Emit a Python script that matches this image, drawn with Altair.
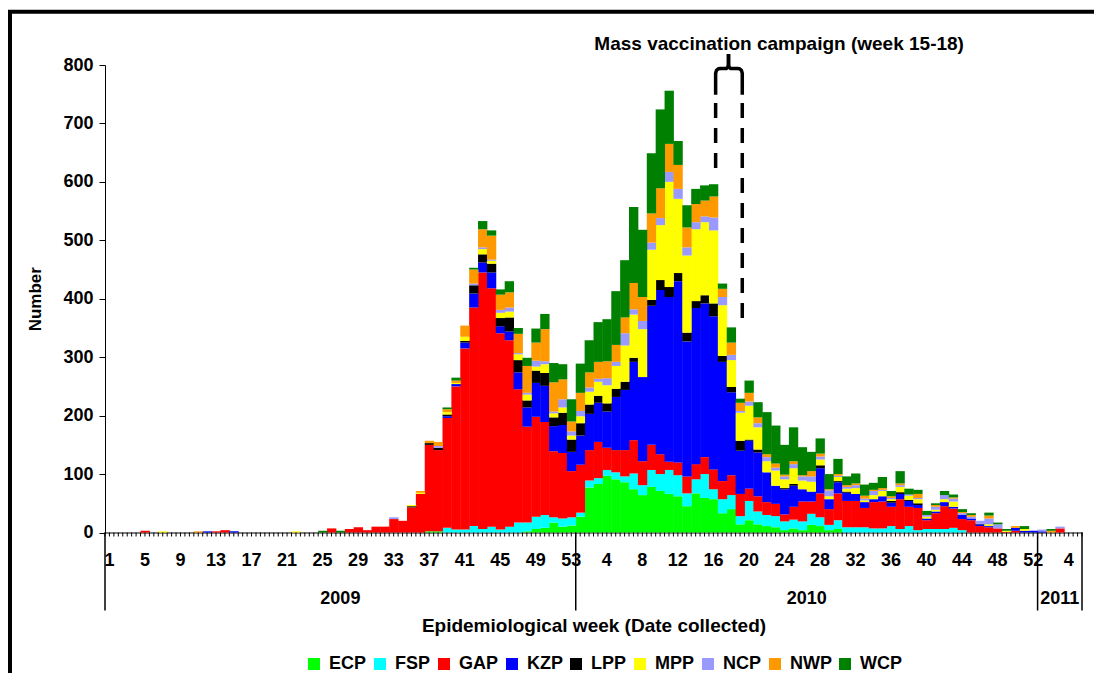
import altair as alt
import pandas as pd

# ---------------- data ----------------
categories = ["ECP", "FSP", "GAP", "KZP", "LPP", "MPP", "NCP", "NWP", "WCP"]
colors = ["#00FF00", "#00FFFF", "#FF0000", "#0000FF", "#000000",
          "#FFFF00", "#9999FF", "#FF9900", "#008000"]

years = ["2009", "2010", "2011"]
weeks_per_year = [53, 52, 5]
labeled_weeks = {
    "2009": [1, 5, 9, 13, 17, 21, 25, 29, 33, 37, 41, 45, 49, 53],
    "2010": [4, 8, 12, 16, 20, 24, 28, 32, 36, 40, 44, 48, 52],
    "2011": [4],
}

# counts per week: 2009 (53 weeks) + 2010 (52 weeks) + 2011 (5 weeks)
ECP = ([0] * 36 + [2, 2, 0, 0, 0, 0, 0, 0, 0, 0, 0, 2, 6, 8, 17, 10, 12]
       + [27, 77, 83, 97, 91, 86, 74, 64, 78, 71,
          66, 62, 45, 67, 59, 57, 33, 40, 14, 21,
          14, 11, 9, 4, 7, 4, 13, 11, 4, 6]
       + [0] * 22
       + [0, 0, 0, 0, 0])
FSP = ([0] * 38 + [8, 5, 5, 11, 6, 10, 5, 10, 17, 15, 21, 22, 9, 14, 14]
       + [7, 12, 10, 10, 12, 10, 27, 17, 29, 29,
          41, 36, 22, 24, 41, 17, 24, 24, 14, 33,
          22, 19, 19, 15, 15, 15, 19, 15, 9, 15,
          9, 9, 9, 7, 7, 11, 6, 11, 4, 6,
          6, 6, 8, 4, 0, 0, 0, 0, 0, 0,
          0, 0]
       + [0, 0, 0, 0, 0])
GAP = ([0, 0, 0, 0, 3, 0, 0, 0, 0, 0,
        0, 0, 2, 4, 0, 0, 0, 0, 0, 0,
        0, 0, 0, 0, 0, 7, 0, 6, 9, 4,
        10, 10, 23, 20, 43, 66, 148, 139, 188, 245,
        310, 374, 439, 408, 336, 319, 228, 164, 171, 159,
        113, 112, 79]
       + [82, 52, 62, 38, 38, 45, 57, 41, 43, 34,
          14, 22, 29, 26, 29, 34, 31, 34, 38, 21,
          26, 22, 21, 12, 22, 34, 21, 41, 27, 46,
          45, 45, 33, 45, 46, 33, 51, 33, 38, 15,
          27, 39, 33, 19, 21, 11, 9, 7, 1, 3,
          0, 0]
       + [0, 0, 7, 0, 0])
KZP = ([0] * 11 + [2, 0, 0, 2] + [0] * 23
       + [3, 4, 10, 24, 17, 27, 12, 15, 29, 33, 58, 62, 43, 48, 33]
       + [50, 62, 67, 62, 91, 103, 134, 144, 238, 281,
          282, 310, 231, 267, 263, 262, 204, 142, 74, 82,
          75, 51, 31, 43, 36, 21, 17, 43, 17, 19,
          14, 12, 10, 5, 9, 7, 9, 10, 5, 3,
          3, 7, 3, 7, 3, 3, 2, 0, 0, 5,
          3, 3]
       + [2, 0, 0, 0, 0])
LPP = ([0] * 34 + [2, 0, 3, 4, 3, 0, 3]
       + [14, 14, 15, 14, 24, 21, 12, 21, 22, 15, 21, 21]
       + [21, 16, 12, 14, 14, 14, 7, 0, 10, 17,
          17, 14, 15, 12, 14, 22, 10, 9, 17, 2,
          5, 0, 0, 2, 3, 0, 0, 5, 0, 2,
          2, 0, 0, 0, 0, 3, 3, 2, 3, 0,
          0, 0, 0, 0, 0, 1, 0, 0, 0, 0,
          0, 0]
       + [0, 0, 0, 0, 0])
MPP = ([0] * 6 + [2] + [0] * 14 + [2] + [0] * 12
       + [2, 2, 0, 0, 4, 2, 7, 0]
       + [9, 5, 9, 10, 10, 10, 7, 15, 7, 9, 7]
       + [12, 22, 24, 31, 39, 62, 74, 82, 86, 94,
          180, 127, 132, 123, 125, 125, 87, 46, 48, 58,
          38, 19, 26, 15, 27, 15, 17, 10, 5, 7,
          5, 10, 3, 7, 9, 3, 9, 7, 7, 3,
          3, 5, 9, 0, 0, 0, 3, 0, 2, 0,
          3, 0]
       + [0, 0, 0, 0, 0])
NCP = ([0] * 32 + [3, 0, 0, 0, 0, 3, 0, 0, 0]
       + [3, 3, 2, 5, 7, 2, 3, 10, 5, 3, 14, 7]
       + [9, 7, 5, 12, 7, 21, 9, 14, 12, 12,
          17, 17, 14, 12, 10, 22, 14, 9, 3, 7,
          7, 7, 5, 5, 7, 7, 9, 5, 10, 2,
          3, 5, 3, 7, 2, 2, 3, 2, 2, 3,
          5, 7, 5, 3, 3, 5, 10, 7, 0, 0,
          0, 0]
       + [3, 0, 3, 0, 0])
NWP = ([0] * 10 + [2] + [0] * 24
       + [3, 4, 7, 5, 4, 19, 24, 31, 41, 26, 26, 33, 46, 31, 55, 50, 34, 17]
       + [31, 26, 29, 29, 29, 27, 45, 41, 50, 51,
          48, 41, 34, 31, 27, 36, 14, 21, 14, 15,
          10, 5, 7, 3, 5, 2, 9, 5, 2, 3,
          3, 3, 5, 2, 3, 3, 3, 0, 7, 0,
          3, 0, 2, 2, 3, 0, 5, 0, 0, 3,
          0, 0]
       + [0, 3, 0, 0, 0])
WCP = ([0] * 24 + [3, 0, 3] + [0] * 11 + [3, 5, 0]
       + [3, 14, 9, 9, 19, 10, 14, 24, 26, 33, 26, 38]
       + [50, 55, 68, 72, 92, 98, 130, 115, 103, 135,
          91, 41, 38, 26, 26, 21, 9, 26, 7, 21,
          26, 72, 65, 51, 58, 48, 33, 26, 26, 26,
          15, 17, 19, 12, 19, 9, 21, 10, 7, 7,
          3, 7, 5, 5, 3, 0, 5, 3, 3, 0,
          5, 0]
       + [0, 3, 0, 0, 0])

series = dict(zip(categories, [ECP, FSP, GAP, KZP, LPP, MPP, NCP, NWP, WCP]))

annotation_text = "Mass vaccination campaign (week 15-18)"

# ---------------- tables ----------------
label_rows = []
pos = 0
starts, ends = [], []
for yr, n in zip(years, weeks_per_year):
    starts.append(pos)
    for wk in range(1, n + 1):
        if wk in labeled_weeks[yr]:
            label_rows.append({"xc": pos + wk - 0.5, "lab": str(wk)})
    pos += n
    ends.append(pos)
n_weeks = pos
label_df = pd.DataFrame(label_rows)
tick_df = pd.DataFrame({"t": [k / 2 for k in range(2 * n_weeks + 1)]})

rows = []
for order, cat in enumerate(categories):
    for i, v in enumerate(series[cat]):
        rows.append({"idx": i, "cat": cat, "order": order, "value": v})
df = pd.DataFrame(rows)

year_df = pd.DataFrame({"year": years, "start": starts, "end": ends})
bound_df = pd.DataFrame({"b": [0] + ends})

# annotation geometry (week-index units, count units)
ann_text_df = pd.DataFrame({"x": [75.9], "y": [836], "t": [annotation_text]})
bracket_df = pd.DataFrame({
    "side": ["L"] * 9 + ["R"] * 9,
    "ord": list(range(9)) * 2,
    "x": [68.75, 68.75, 68.85, 69.05, 69.3, 69.95, 70.12, 70.2, 70.2,
          71.75, 71.75, 71.65, 71.45, 71.2, 70.45, 70.28, 70.2, 70.2],
    "y": [749, 786, 791, 793.5, 794, 794, 796, 801, 819,
          749, 786, 791, 793.5, 794, 794, 796, 801, 819],
})
dash_df = pd.DataFrame({"x": [68.75, 71.75], "top": [735, 735], "bottom": [620, 367]})

# ---------------- chart ----------------
W, H = 977, 467.5
FONT = "Liberation Sans"

x_scale = alt.Scale(domain=[0, n_weeks], nice=False, zero=False)
y_scale = alt.Scale(domain=[0, 800], nice=False)

x_axis = alt.Axis(
    labels=False, ticks=False, domainColor="#555", domainWidth=1.5, grid=False,
    title="Epidemiological week (Date collected)", titleFont=FONT, titleFontSize=19,
    titleFontWeight="bold", titleColor="#000", titleX=W / 2, titleY=93,
    titleBaseline="middle", titleAlign="center",
)
y_axis = alt.Axis(
    values=list(range(0, 801, 100)), labelFontSize=18, labelFontWeight="bold",
    labelFont=FONT, labelColor="#000", labelPadding=6, tickSize=6, tickColor="#000",
    domainColor="#000", grid=False,
    title="Number", titleFont=FONT, titleFontSize=17, titleFontWeight="bold",
    titleColor="#000", titleAngle=270, titleX=-70, titleY=H / 2,
    titleBaseline="middle", titleAlign="center",
)


def X(field):
    return alt.X(field, scale=x_scale, axis=x_axis)


def Y(field):
    return alt.Y(field, scale=y_scale, axis=y_axis)


bars = alt.Chart(df).transform_stack(
    stack="value", groupby=["idx"], as_=["y0", "y1"],
    sort=[alt.SortField("order", "ascending")],
).transform_calculate(
    x1="datum.idx + 1.05"
).mark_rect().encode(
    x=X("idx:Q"),
    x2="x1:Q",
    y=Y("y0:Q"),
    y2="y1:Q",
    color=alt.Color(
        "cat:N", scale=alt.Scale(domain=categories, range=colors),
        legend=alt.Legend(
            title=None, orient="none", direction="horizontal",
            legendX=200, legendY=590, symbolType="square", symbolSize=144,
            symbolStrokeWidth=0, labelFont=FONT, labelFontSize=18,
            labelFontWeight="bold", labelColor="#000", columnPadding=4,
            labelOffset=6,
        ),
    ),
)

ticks = alt.Chart(tick_df).mark_rule(color="#000", strokeWidth=1).encode(
    x=X("t:Q"), y=alt.value(H), y2=alt.value(H + 4)
)

week_text = alt.Chart(label_df).mark_text(
    font=FONT, fontSize=18, fontWeight="bold", color="#000", baseline="middle"
).encode(x=X("xc:Q"), y=alt.value(H + 28), text="lab:N")

seps = alt.Chart(bound_df).mark_rule(color="#000", strokeWidth=1.5).encode(
    x=X("b:Q"), y=alt.value(H), y2=alt.value(H + 78)
)

year_text = alt.Chart(year_df).transform_calculate(
    mid="(datum.start + datum.end) / 2"
).mark_text(font=FONT, fontSize=18, fontWeight="bold", color="#000",
            baseline="middle").encode(
    x=X("mid:Q"), y=alt.value(H + 66.5), text="year:N"
)

ann_text = alt.Chart(ann_text_df).mark_text(
    font=FONT, fontSize=19, fontWeight="bold", color="#000", baseline="middle"
).encode(x=X("x:Q"), y=Y("y:Q"), text="t:N")

bracket = alt.Chart(bracket_df).mark_line(
    color="#000", strokeWidth=3.5, strokeJoin="round", strokeCap="butt"
).encode(x=X("x:Q"), y=Y("y:Q"), detail="side:N", order="ord:Q")

dashes = alt.Chart(dash_df).mark_rule(
    color="#000", strokeWidth=3.5, strokeDash=[15, 10]
).encode(x=X("x:Q"), y=Y("top:Q"), y2="bottom:Q")

frame_src = pd.DataFrame({"k": [0]})
frame_left = alt.Chart(frame_src).mark_rule(color="#000", strokeWidth=4).encode(
    x=alt.value(-95), y=alt.value(-55), y2=alt.value(620)
)
frame_top = alt.Chart(frame_src).mark_rule(color="#000", strokeWidth=4).encode(
    x=alt.value(-97), x2=alt.value(1000), y=alt.value(-53.25)
)

chart = alt.layer(
    bars, ticks, week_text, seps, year_text, ann_text, bracket, dashes,
    frame_left, frame_top
).properties(
    width=W, height=H,
    padding={"left": 97, "top": 57, "right": 12, "bottom": 140},
    autosize=alt.AutoSizeParams(type="none"),
).configure(
    background="#ffffff",
    view=alt.ViewConfig(stroke="transparent", strokeWidth=0),
)

chart.save("out.html", embed_options={"renderer": "svg", "actions": False})
